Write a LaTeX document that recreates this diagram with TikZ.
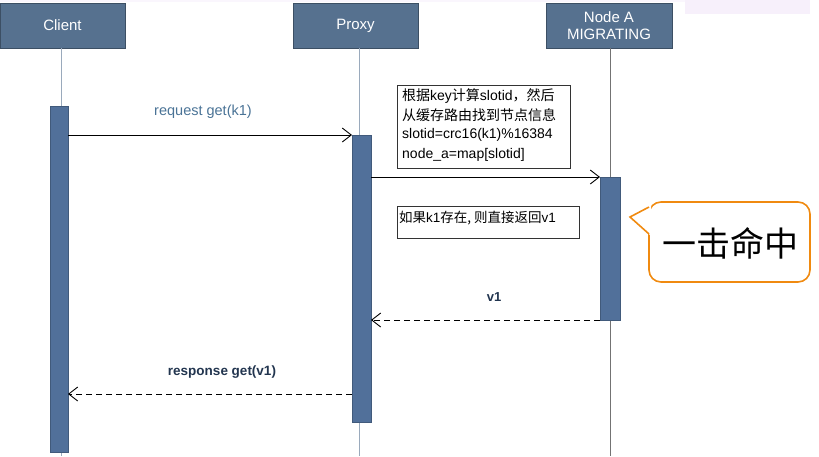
\documentclass[tikz,border=0pt]{standalone}
\usepackage{fontspec}
\setmainfont{Liberation Sans}
\newfontfamily\cjk{Noto Sans CJK SC}
\usetikzlibrary{arrows.meta}
\definecolor{hdr}{HTML}{56718F}
\definecolor{bar}{HTML}{51709A}
\definecolor{lbl}{HTML}{4A7396}
\definecolor{navy}{HTML}{22354F}
\definecolor{callo}{HTML}{F08A10}
\definecolor{pinkish}{HTML}{F7F0FB}
\tikzset{
  hdrbox/.style={draw=hdr!70!black, fill=hdr, minimum width=125pt, minimum height=45pt, inner sep=0pt, text=white, font=\fontsize{15}{17}\selectfont, align=center},
  actbar/.style={draw=bar!80!black, fill=bar, line width=0.4pt},
  life/.style={draw=hdr!60, line width=0.8pt},
  msg/.style={draw=black, line width=0.9pt, -{Straight Barb[length=9pt,width=14pt,line width=0.9pt]}},
  ret/.style={msg, dashed, dash pattern=on 6pt off 4pt},
  notebox/.style={draw=black!80, fill=white, line width=0.8pt, inner sep=0pt, anchor=north west},
  notetxt/.style={font=\fontsize{14}{15}\selectfont, anchor=west, inner sep=0pt}
}
\begin{document}
\begin{tikzpicture}[x=1pt,y=-1pt]
\useasboundingbox (0,0) rectangle (819,456);
% faint artifact top right
\fill[pinkish] (685,-5) rectangle (810,14);
\fill[pinkish!60] (0,0) rectangle (685,2);
% headers
\node[hdrbox] (client) at (62.5,25.5) {Client};
\node[hdrbox] (proxy) at (355.5,25.5) {Proxy};
\node[hdrbox, minimum width=126pt] (nodea) at (609,25.5) {Node A\\[0pt]MIGRATING};
% lifelines
\coordinate (cl0) at (61,456);
\coordinate (px0) at (359,456);
\coordinate (na0) at (610,456);
\draw[life] (client.south -| cl0) -- (cl0);
\draw[life] (proxy.south -| px0) -- (px0);
\draw[draw=black!55, line width=0.8pt] (nodea.south -| na0) -- (na0);
% activation bars
\draw[actbar] (50,106) rectangle (68,452);
\draw[actbar] (352,135) rectangle (371,422);
\draw[actbar] (600,177) rectangle (620,320);
\coordinate (cA) at (68,135);
\coordinate (pA) at (352,135);
\coordinate (pB) at (371,177);
\coordinate (nB) at (600,177);
\coordinate (nC) at (600,320);
\coordinate (pC) at (371,320);
\coordinate (pD) at (352,394);
\coordinate (cD) at (68,394);
% messages
\draw[msg] (cA) -- (pA);
\node[text=lbl, font=\fontsize{14.5}{16}\selectfont] (lreq) at (203,112) {request get(k1)};
\draw[msg] (pB) -- (nB);
\draw[ret] (nC) -- (pC);
\node[font=\bfseries\fontsize{13}{14}\selectfont, text=navy] (lv1) at (494,297) {v1};
\draw[ret] (pD) -- (cD);
\node[font=\bfseries\fontsize{13.5}{14}\selectfont, text=navy] (lresp) at (222,372) {response get(v1)};
% note 1
\node[notebox, minimum width=173pt, minimum height=83pt] (n1) at (397,85) {};
\node[notetxt] (n1a) at (402,96) {{\cjk 根据}key{\cjk 计算}slotid{\cjk ，然后}};
\node[notetxt] (n1b) at (402,115) {\cjk 从缓存路由找到节点信息};
\node[notetxt] (n1c) at (402,135) {slotid=crc16(k1)\%16384};
\node[notetxt] (n1d) at (402,155) {node\_a=map[slotid]};
% note 2
\node[notebox, minimum width=182pt, minimum height=32pt] (n2) at (397,206) {};
\node[notetxt, font=\fontsize{13.5}{14}\selectfont] (n2a) at (399,218) {{\cjk 如果}k1{\cjk 存在, 则直接返回}v1};
% callout
\draw[callo, line width=1.6pt, fill=white, rounded corners=12pt] (649,202) rectangle (810,282);
\coordinate (tip) at (630,217);
\fill[white] (651,205) -- (tip) -- (651,236) -- cycle;
\draw[callo, line width=1.6pt, line join=miter] (649,207) -- (tip) -- (649,234);
\node[font=\cjk\fontsize{34}{36}\selectfont] (hit) at (730,243) {一击命中};
\end{tikzpicture}
\end{document}
